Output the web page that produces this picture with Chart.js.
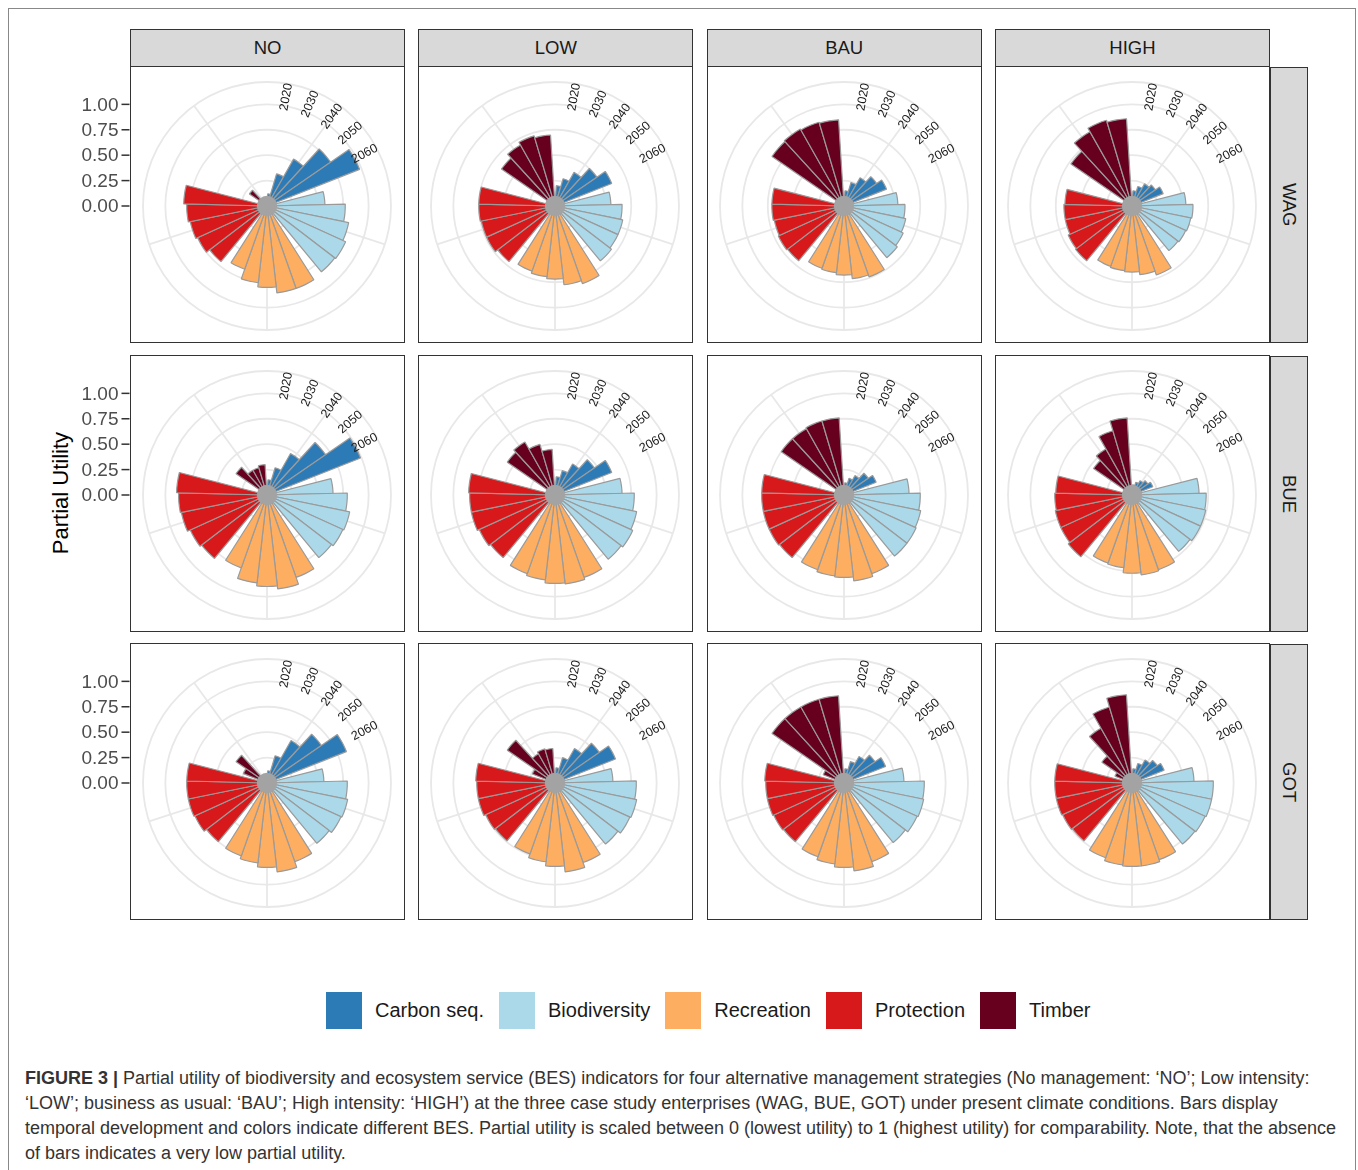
<!DOCTYPE html>
<html>
<head>
<meta charset="utf-8">
<script src="https://cdn.jsdelivr.net/npm/chart.js@4.4.0/dist/chart.umd.min.js"></script>
<style>
  body { margin: 0; background: #fff; font-family: "Liberation Sans", Arial, sans-serif; }
  #page { position: relative; width: 1358px; height: 1170px; overflow: hidden; }
  #frame { position: absolute; left: 8px; top: 8px; width: 1348px; height: 1200px; border: 1px solid #888; box-sizing: border-box; }
  .strip { position: absolute; background: #d9d9d9; border: 1.5px solid #333; box-sizing: border-box;
           display: flex; align-items: center; justify-content: center; font-size: 18.5px; color: #1a1a1a; }
  .strip.side { writing-mode: vertical-rl; }
  .panel { position: absolute; border: 1.5px solid #333; box-sizing: border-box; }
  .panel canvas { position: absolute; top: 0; }
  #ytitle { position: absolute; left: 61px; top: 493px; transform: translate(-50%, -50%) rotate(-90deg);
            font-size: 22px; color: #000; white-space: nowrap; }
  #legend { position: absolute; left: 326px; top: 992px; display: flex; align-items: center; }
  #legend .key { width: 36px; height: 37px; margin-right: 13px; }
  #legend .name { font-size: 20px; color: #1a1a1a; margin-right: 15px; }
  #caption { position: absolute; left: 25px; top: 1066px; font-size: 18px; line-height: 25px; color: #333; white-space: nowrap; }
</style>
</head>
<body>
<div id="page">
  <div id="frame"></div>
  <div id="ytitle">Partial Utility</div>
  <div id="legend"></div>
  <div id="caption">
    <b>FIGURE 3 |</b> Partial utility of biodiversity and ecosystem service (BES) indicators for four alternative management strategies (No management: ‘NO’; Low intensity:<br>
    ‘LOW’; business as usual: ‘BAU’; High intensity: ‘HIGH’) at the three case study enterprises (WAG, BUE, GOT) under present climate conditions. Bars display<br>
    temporal development and colors indicate different BES. Partial utility is scaled between 0 (lowest utility) to 1 (highest utility) for comparability. Note, that the absence<br>
    of bars indicates a very low partial utility.
  </div>
</div>
<script>
const years = ['2020', '2030', '2040', '2050', '2060'];
const services = ['Carbon seq.', 'Biodiversity', 'Recreation', 'Protection', 'Timber'];
const serviceColors = ['#2c7bb6', '#abd9e9', '#fdae61', '#d7191c', '#67001f'];
const strategies = ['NO', 'LOW', 'BAU', 'HIGH'];
const sites = ['WAG', 'BUE', 'GOT'];
const utilityTicks = [0, 0.25, 0.5, 0.75, 1.0];

// partial utility: one row per service (carbon, biodiversity, recreation, protection, timber), one value per year
const WAG_NO   = [[0.12, 0.33, 0.53, 0.76, 0.98], [0.57, 0.77, 0.82, 0.85, 0.84], [0.86, 0.86, 0.80, 0.76, 0.66], [0.71, 0.75, 0.77, 0.79, 0.82], [0.03, 0.21, 0.03, 0.03, 0.03]];
const WAG_LOW  = [[0.20, 0.28, 0.38, 0.50, 0.60], [0.55, 0.66, 0.68, 0.68, 0.70], [0.81, 0.78, 0.72, 0.70, 0.68], [0.71, 0.74, 0.74, 0.75, 0.75], [0.03, 0.64, 0.69, 0.72, 0.70]];
const WAG_BAU  = [[0.15, 0.24, 0.32, 0.39, 0.45], [0.53, 0.60, 0.62, 0.64, 0.66], [0.74, 0.72, 0.68, 0.66, 0.65], [0.70, 0.71, 0.70, 0.71, 0.71], [0.03, 0.86, 0.87, 0.86, 0.85]];
const WAG_HIGH = [[0.15, 0.20, 0.25, 0.28, 0.33], [0.53, 0.60, 0.59, 0.58, 0.57], [0.72, 0.68, 0.65, 0.64, 0.63], [0.70, 0.69, 0.67, 0.67, 0.66], [0.03, 0.73, 0.84, 0.88, 0.86]];
const BUE_NO   = [[0.15, 0.28, 0.47, 0.70, 0.99], [0.65, 0.79, 0.83, 0.82, 0.80], [0.86, 0.93, 0.90, 0.87, 0.76], [0.81, 0.83, 0.86, 0.87, 0.89], [0.03, 0.37, 0.28, 0.28, 0.30]];
const BUE_LOW  = [[0.18, 0.25, 0.35, 0.47, 0.60], [0.66, 0.78, 0.82, 0.84, 0.82], [0.86, 0.88, 0.87, 0.84, 0.82], [0.80, 0.82, 0.84, 0.84, 0.85], [0.03, 0.57, 0.60, 0.52, 0.45]];
const BUE_BAU  = [[0.12, 0.17, 0.22, 0.29, 0.34], [0.64, 0.75, 0.77, 0.78, 0.78], [0.82, 0.85, 0.81, 0.80, 0.78], [0.80, 0.81, 0.81, 0.81, 0.81], [0.03, 0.75, 0.75, 0.76, 0.76]];
const BUE_HIGH = [[0.10, 0.13, 0.16, 0.19, 0.22], [0.66, 0.73, 0.74, 0.74, 0.72], [0.78, 0.79, 0.77, 0.72, 0.71], [0.79, 0.77, 0.77, 0.76, 0.75], [0.03, 0.46, 0.52, 0.66, 0.76]];
const GOT_NO   = [[0.12, 0.28, 0.48, 0.65, 0.84], [0.56, 0.79, 0.81, 0.80, 0.77], [0.82, 0.88, 0.83, 0.79, 0.76], [0.75, 0.78, 0.79, 0.79, 0.79], [0.25, 0.37, 0.03, 0.03, 0.03]];
const GOT_LOW  = [[0.15, 0.26, 0.39, 0.53, 0.64], [0.57, 0.80, 0.82, 0.81, 0.78], [0.83, 0.88, 0.82, 0.78, 0.74], [0.74, 0.75, 0.77, 0.77, 0.78], [0.24, 0.57, 0.33, 0.35, 0.34]];
const GOT_BAU  = [[0.14, 0.22, 0.30, 0.37, 0.44], [0.59, 0.79, 0.80, 0.79, 0.76], [0.82, 0.87, 0.83, 0.80, 0.77], [0.75, 0.76, 0.77, 0.77, 0.78], [0.22, 0.86, 0.86, 0.86, 0.86]];
const GOT_HIGH = [[0.14, 0.20, 0.26, 0.30, 0.34], [0.61, 0.80, 0.80, 0.79, 0.78], [0.80, 0.82, 0.82, 0.81, 0.78], [0.74, 0.75, 0.76, 0.76, 0.76], [0.18, 0.36, 0.62, 0.78, 0.87]];

const grid = {
    WAG: [WAG_NO, WAG_LOW, WAG_BAU, WAG_HIGH],
    BUE: [BUE_NO, BUE_LOW, BUE_BAU, BUE_HIGH],
    GOT: [GOT_NO, GOT_LOW, GOT_BAU, GOT_HIGH]
};

/* ---------------- LAYOUT ---------------- */
const R_MAX = 1.22;      // outer ring of the polar panel
const LABEL_R = 1.09;    // where the year labels sit
const DODGE = 0.9;       // share of each service sector filled by bars
const PANEL_X = 130, PANEL_Y = 66, STEP_X = 288.33, STEP_Y = 288.67;
const PANEL_W = 275, PANEL_H = 277, PAD = 12, AXIS_W = 90;

const page = document.getElementById('page');

function el(cls, css, text) {
    const d = document.createElement('div');
    d.className = cls;
    Object.assign(d.style, css);
    if (text) d.textContent = text;
    page.appendChild(d);
    return d;
}

// bars plus an empty half gap on each side of every service
function buildSeries(rows) {
    const sector = 360 / services.length;
    const barAngle = sector * DODGE / years.length;
    const gap = sector * (1 - DODGE) / 2;
    const out = { labels: [], values: [], colors: [], widths: [], angles: [] };
    const push = (label, v, c, w, a) => {
        out.labels.push(label); out.values.push(v); out.colors.push(c); out.widths.push(w); out.angles.push(a);
    };
    rows.forEach((row, s) => {
        push('', 0, 'rgba(0,0,0,0)', 0, gap);
        row.forEach((v, y) => push(services[s] + ' ' + years[y], v, serviceColors[s], 1.2, barAngle));
        push('', 0, 'rgba(0,0,0,0)', 0, gap);
    });
    return out;
}

function groupAngles(chart) {
    const arcs = chart.getDatasetMeta(0).data;
    const per = years.length + 2;
    return services.map((_, s) => [arcs[s * per + 1], arcs[s * per + years.length]]);
}

const polarDecor = {
    id: 'polarDecor',
    beforeDatasetsDraw(chart) {
        const r = chart.scales.r, ctx = chart.ctx;
        ctx.save();
        ctx.strokeStyle = '#e8e8e8';
        ctx.lineWidth = 1.8;
        groupAngles(chart).forEach(([first, last]) => {
            const a = (first.startAngle + last.endAngle) / 2;
            ctx.beginPath();
            ctx.moveTo(r.xCenter, r.yCenter);
            ctx.lineTo(r.xCenter + Math.cos(a) * r.drawingArea, r.yCenter + Math.sin(a) * r.drawingArea);
            ctx.stroke();
        });
        ctx.restore();
    },
    afterDatasetsDraw(chart) {
        const r = chart.scales.r, ctx = chart.ctx;
        const arcs = chart.getDatasetMeta(0).data;
        ctx.save();
        // hub where all bar outlines meet
        ctx.fillStyle = '#a3a3a3';
        ctx.beginPath();
        ctx.arc(r.xCenter, r.yCenter, r.getDistanceFromCenterForValue(0.1), 0, Math.PI * 2);
        ctx.fill();
        // year labels along the first service
        const dist = r.getDistanceFromCenterForValue(LABEL_R);
        ctx.fillStyle = '#1a1a1a';
        ctx.font = '12.5px "Liberation Sans", Arial, sans-serif';
        ctx.textAlign = 'center';
        ctx.textBaseline = 'middle';
        years.forEach((yr, i) => {
            const arc = arcs[i + 1];
            const a = (arc.startAngle + arc.endAngle) / 2;
            ctx.save();
            ctx.translate(r.xCenter + Math.cos(a) * dist, r.yCenter + Math.sin(a) * dist);
            ctx.rotate(a);
            ctx.fillText(yr, 0, 0);
            ctx.restore();
        });
        ctx.restore();
    }
};

const utilityAxis = {
    id: 'utilityAxis',
    afterDraw(chart, args, opts) {
        if (!opts.edge) return;
        const r = chart.scales.r, ctx = chart.ctx;
        ctx.save();
        ctx.strokeStyle = '#333';
        ctx.lineWidth = 1.5;
        ctx.fillStyle = '#4d4d4d';
        ctx.font = '19px "Liberation Sans", Arial, sans-serif';
        ctx.textAlign = 'right';
        ctx.textBaseline = 'middle';
        utilityTicks.forEach(v => {
            const y = r.yCenter - r.getDistanceFromCenterForValue(v);
            ctx.beginPath();
            ctx.moveTo(opts.edge - 8, y);
            ctx.lineTo(opts.edge, y);
            ctx.stroke();
            ctx.fillText(v.toFixed(2), opts.edge - 11, y + 1);
        });
        ctx.restore();
    }
};

/* ---------------- STRIPS ---------------- */
strategies.forEach((name, c) => {
    el('strip', { left: (PANEL_X + c * STEP_X) + 'px', top: '29px', width: PANEL_W + 'px', height: '38px' }, name);
});
sites.forEach((name, r) => {
    el('strip side', { left: '1270px', top: (PANEL_Y + 1 + r * STEP_Y) + 'px', width: '38px', height: (PANEL_H - 1) + 'px' }, name);
});

/* ---------------- PANELS ---------------- */
sites.forEach((site, row) => {
    strategies.forEach((strat, col) => {
        const panel = el('panel', {
            left: (PANEL_X + col * STEP_X) + 'px', top: (PANEL_Y + row * STEP_Y) + 'px',
            width: PANEL_W + 'px', height: PANEL_H + 'px'
        });
        const extra = col === 0 ? AXIS_W : 0;
        const w = PANEL_W - 3 + extra, h = PANEL_H - 3;
        const canvas = document.createElement('canvas');
        canvas.width = w; canvas.height = h;
        canvas.style.width = w + 'px'; canvas.style.height = h + 'px';
        canvas.style.left = (-extra) + 'px';
        panel.appendChild(canvas);

        const s = buildSeries(grid[site][col]);
        new Chart(canvas, {
            type: 'polarArea',
            data: {
                labels: s.labels,
                datasets: [{
                    data: s.values,
                    backgroundColor: s.colors,
                    borderColor: '#9a9a9a',
                    borderWidth: s.widths,
                    angle: s.angles
                }]
            },
            options: {
                responsive: false,
                animation: false,
                layout: { padding: { left: PAD + extra, right: PAD, top: PAD + 2, bottom: PAD - 2 } },
                plugins: {
                    legend: { display: false },
                    tooltip: { enabled: false },
                    utilityAxis: { edge: col === 0 ? extra - 1.5 : 0 }
                },
                scales: {
                    r: {
                        min: 0,
                        max: R_MAX,
                        startAngle: 0,
                        afterBuildTicks: sc => { sc.ticks = utilityTicks.concat([R_MAX]).map(v => ({ value: v })); },
                        ticks: { display: false },
                        grid: { color: '#e8e8e8', lineWidth: 1.8, circular: true },
                        angleLines: { display: false },
                        pointLabels: { display: false }
                    }
                }
            },
            plugins: [polarDecor, utilityAxis]
        });
    });
});

/* ---------------- LEGEND ---------------- */
const legend = document.getElementById('legend');
services.forEach((name, i) => {
    const key = document.createElement('div');
    key.className = 'key';
    key.style.background = serviceColors[i];
    const label = document.createElement('div');
    label.className = 'name';
    label.textContent = name;
    legend.appendChild(key);
    legend.appendChild(label);
});
</script>
</body>
</html>
